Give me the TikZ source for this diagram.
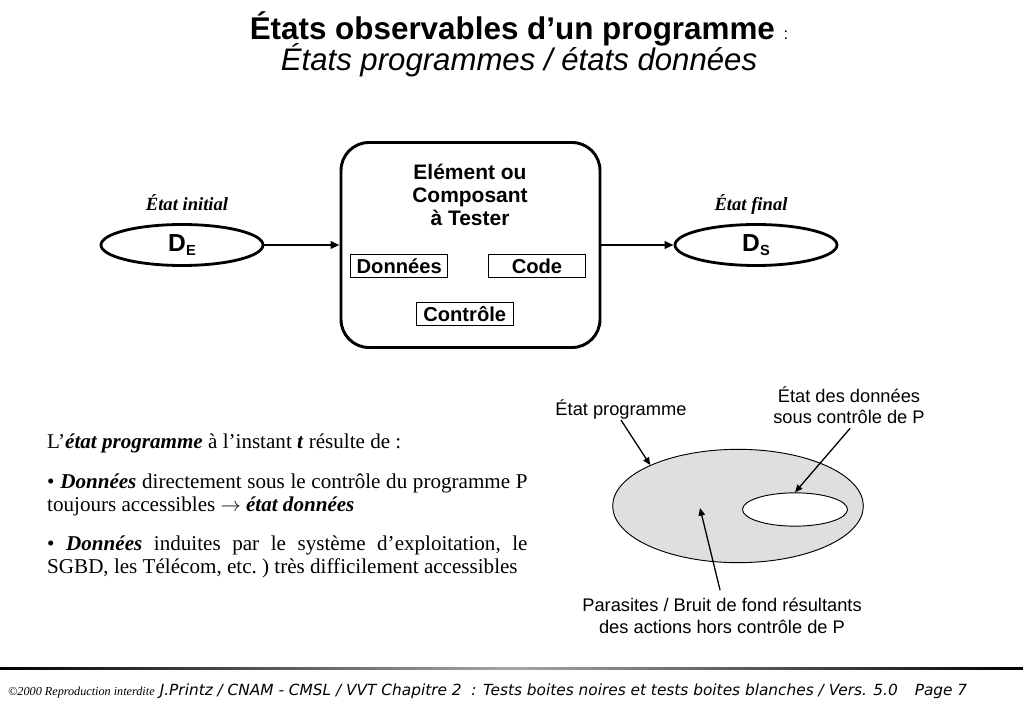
\documentclass[tikz,border=0pt]{standalone}
\usepackage{fontspec}
\setmainfont{Liberation Serif}
\setsansfont{Liberation Sans}
\newfontfamily\piedfont{DejaVu Sans}
\usetikzlibrary{positioning,shapes.geometric,arrows.meta}

\newcommand{\donnee}[1]{D\raisebox{-3.6pt}{\fontsize{12.5}{12.5}\selectfont\kern0.3pt #1}}

\begin{document}
\begin{tikzpicture}[x=0.3mm, y=-0.3mm, font=\sffamily, etat/.style={ellipse, draw, line width=2.4pt, minimum width=48.6mm, minimum height=12.3mm, inner sep=0pt, font=\sffamily\bfseries\fontsize{21}{21}\selectfont}, legende/.style={inner sep=0pt, text depth=0pt, font=\rmfamily\bfseries\itshape\fontsize{15.9}{18}\selectfont}, partie/.style={rectangle, draw, line width=0.8pt, minimum width=29.1mm, minimum height=6.9mm, inner sep=0pt, font=\sffamily\bfseries\fontsize{17.2}{17.2}\selectfont}, fleche/.style={line width=1.8pt, -{Triangle[length=7.7pt,width=6.4pt]}}, renvoi/.style={line width=1.1pt, -{Triangle[length=6.5pt,width=5.5pt]}}, note/.style={align=center, inner sep=0pt, font=\sffamily\fontsize{15.6}{18.2}\selectfont}]
  \useasboundingbox (0,0) rectangle (1023,708);

  % titre
  \node[anchor=base, font=\sffamily\bfseries\fontsize{26.8}{30}\selectfont] (titre) at (519,40) {États observables d’un programme {\mdseries\fontsize{14}{14}\selectfont :}};
  \node[anchor=base, font=\sffamily\itshape\fontsize{26.6}{30}\selectfont] (soustitre) at (519,70.5) {États programmes / états données};

  % composant a tester
  \node[draw, line width=2.5pt, rounded corners=8.4mm, minimum width=77.7mm, minimum height=61.5mm] (composant) at (470.5,245) {};
  \node[anchor=north, align=center, inner sep=0pt, font=\sffamily\bfseries\fontsize{17.9}{19.6}\selectfont] (nom) at (470,163.5) {Elément ou\\Composant\\à Tester};
  \node[partie] (donnees) at (399.2,266.3) {Données};
  \node[partie] (code) at (537,266.3) {Code};
  \node[partie] (controle) at (464.7,313.7) {Contrôle};

  % etats initial et final
  \node[etat] (dE) at (182,245) {\donnee{E}};
  \node[etat] (dS) at (756,245) {\donnee{S}};
  \node[legende, above=3.6mm of dE, xshift=1.5mm] (initial) {État initial};
  \node[legende, above=3.6mm of dS, xshift=-1.5mm] (final) {État final};
  \draw[fleche] (dE) -- (composant);
  \draw[fleche] (composant) -- (dS);

  % texte
  \node[anchor=north west, text width=410pt, align=justify, inner sep=0pt, font=\rmfamily\fontsize{18}{19.6}\selectfont] (texte) at (47,434) {\hyphenpenalty=10000\relax\frenchspacing L’\textbf{\textit{état programme}} à l’instant \textbf{\textit{t}} résulte de :\\[14pt]
    • \textbf{\textit{Données}} directement sous le contrôle du programme P toujours accessibles $\rightarrow$ \textbf{\textit{état données}}\\[14pt]
    • \textbf{\textit{Données}} induites par le système d’exploitation, le SGBD, les Télécom, etc. ) très difficilement accessibles};

  % etat programme / etat donnees
  \node[ellipse, draw, fill=gray!25, line width=0.8pt, minimum width=75.2mm, minimum height=34mm] (programme) at (738,506) {};
  \node[ellipse, draw, fill=white, line width=0.8pt, minimum width=31.5mm, minimum height=10mm] (etatP) at (795,509.5) {};
  \coordinate (bruit) at (700,508);
  \node[note, anchor=base] (lprog) at (621,416) {État programme};
  \node[note, anchor=north] (ldonnees) at (849,386) {État des données\\sous contrôle de P};
  \node[note, anchor=north] (lbruit) at (722,598) {Parasites / Bruit de fond résultants\\des actions hors contrôle de P};
  \draw[renvoi] (lprog.south) -- (programme.155);
  \draw[renvoi, shorten <=1.8mm] ([xshift=1.5mm]ldonnees.south) -- (etatP.north);
  \draw[renvoi, shorten <=2.4mm] (lbruit.north) -- (bruit);

  % pied de page
  \shade[left color=black, right color=black, middle color=gray!70] (0,667) rectangle (1023,669);
  \node[anchor=base west, inner sep=0pt, font=\rmfamily\itshape\fontsize{10.4}{11}\selectfont] (copyright) at (8,696) {©2000 Reproduction interdite};
  \node[anchor=base west, inner sep=0pt, font=\piedfont\itshape\fontsize{13.1}{14}\selectfont] (pied) at ([xshift=1.4mm]copyright.base east) {J.Printz / CNAM - CMSL / VVT Chapitre 2\ \ : Tests boites noires et tests boites blanches / Vers. 5.0\hspace{1.1em}Page 7};
\end{tikzpicture}
\end{document}
